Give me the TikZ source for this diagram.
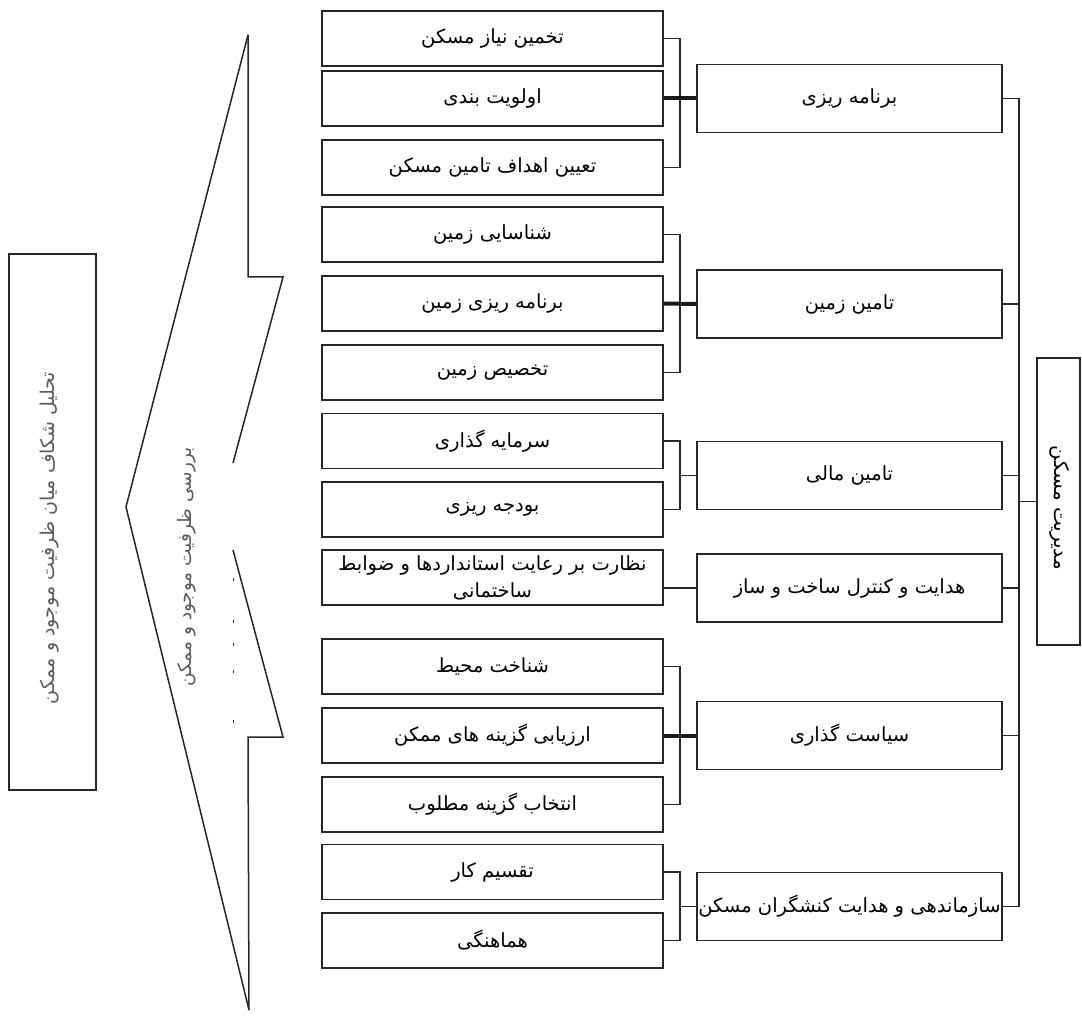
\documentclass[tikz,border=0pt]{standalone}
\usepackage{fontspec}
\TeXXeTstate=1
\newfontfamily\arabicfont[Script=Arabic]{DejaVu Sans}
\newcommand{\fa}[1]{\arabicfont\beginR #1\endR}
\begin{document}
\begin{tikzpicture}[x=1pt,y=-1pt,
  box/.style={draw=black!85, line width=1.5pt, inner sep=0pt, fill=white,
    font=\fontsize{19.5}{27}\selectfont},
  sub/.style={box, minimum width=341pt, minimum height=55pt},
  mid/.style={box, minimum width=305pt, minimum height=68pt},
  conn/.style={draw=black!85, line width=1.5pt},
  thickconn/.style={draw=black!90, line width=4pt},
  blurtext/.style={text=black!65, inner sep=0pt}]
\useasboundingbox (0,0) rectangle (1082,1016);

% sub-items
\node[sub] (b1)  at (492.5,38.5)  {\fa{تخمین نیاز مسکن}};
\node[sub] (b2)  at (492.5,98.5)  {\fa{اولویت بندی}};
\node[sub] (b3)  at (492.5,167.5) {\fa{تعیین اهداف تامین مسکن}};
\node[sub] (b4)  at (492.5,234.5) {\fa{شناسایی زمین}};
\node[sub] (b5)  at (492.5,303.5) {\fa{برنامه ریزی زمین}};
\node[sub] (b6)  at (492.5,372.5) {\fa{تخصیص زمین}};
\node[sub] (b7)  at (492.5,441)   {\fa{سرمایه گذاری}};
\node[sub] (b8)  at (492.5,509.5) {\fa{بودجه ریزی}};
\node[sub, align=center] (b9) at (492.5,577.5)
  {\fa{نظارت بر رعایت استانداردها و ضوابط}\\\fa{ساختمانی}};
\node[sub] (b10) at (492.5,666.5) {\fa{شناخت محیط}};
\node[sub] (b11) at (492.5,735.5) {\fa{ارزیابی گزینه های ممکن}};
\node[sub] (b12) at (492.5,804.5) {\fa{انتخاب گزینه مطلوب}};
\node[sub] (b13) at (492.5,872)   {\fa{تقسیم کار}};
\node[sub] (b14) at (492.5,940.5) {\fa{هماهنگی}};

% middle boxes
\node[mid] (A) at (849.5,98.5)  {\fa{برنامه ریزی}};
\node[mid] (B) at (849.5,304)   {\fa{تامین زمین}};
\node[mid] (C) at (849.5,475.5) {\fa{تامین مالی}};
\node[mid] (D) at (849.5,588)   {\fa{هدایت و کنترل ساخت و ساز}};
\node[mid] (E) at (849.5,735.5) {\fa{سیاست گذاری}};
\node[mid] (F) at (849.5,906.5) {\fa{سازماندهی و هدایت کنشگران مسکن}};

% right box
\node[box, minimum width=43pt, minimum height=287pt] (R) at (1058.5,501.5) {};
\node[rotate=-90, inner sep=0pt, font=\fontsize{20}{24}\selectfont] (Rt) at (1060,508) {\fa{مدیریت مسکن}};

% left box
\node[box, minimum width=87pt, minimum height=536pt] (L) at (52.5,522) {};
\node[rotate=90, blurtext, font=\fontsize{19}{22}\selectfont] (Lt) at (50,538) {\fa{تحلیل شکاف میان ظرفیت موجود و ممکن}};

% bracket columns
\coordinate (xb) at (680,0);
\coordinate (xr) at (1019,0);

\draw[conn] (b1.east) -- (b1.east -| xb) -- (b3.east -| xb) -- (b3.east);
\draw[thickconn] (b2.east) -- (A.west);
\draw[conn] (b4.east) -- (b4.east -| xb) -- (b6.east -| xb) -- (b6.east);
\draw[thickconn] (b5.east) -- (B.west);
\draw[conn] (b7.east) -- (b7.east -| xb) -- (b8.east -| xb) -- (b8.east);
\draw[conn] (C.west -| xb) -- (C.west);
\draw[conn] (D.west -| b9.east) -- (D.west);
\draw[conn] (b10.east) -- (b10.east -| xb) -- (b12.east -| xb) -- (b12.east);
\draw[thickconn] (b11.east) -- (E.west);
\draw[conn] (b13.east) -- (b13.east -| xb) -- (b14.east -| xb) -- (b14.east);
\draw[conn] (F.west -| xb) -- (F.west);

\draw[conn] (A.east) -- (A.east -| xr) -- (F.east -| xr) -- (F.east);
\foreach \n in {B,C,D,E} \draw[conn] (\n.east) -- (\n.east -| xr);
\draw[conn] (R.west -| xr) -- (R.west);

% chevron shape
\coordinate (ct) at (248,35);
\coordinate (ca) at (126,507);
\coordinate (cb) at (249,1010);
\draw[conn] (ct) -- (ca) -- (cb);
\draw[conn] (ct) -- (248,277) -- (283,277) -- (233,463);
\draw[conn] (233,550) -- (283,737) -- (248,737) -- (cb);
\node[rotate=90, blurtext, font=\fontsize{18.5}{22}\selectfont] (Ct) at (187,567) {\fa{بررسی ظرفیت موجود و ممکن}};
\foreach \yy in {578,620,643,670,720}
  \draw[black!80, line width=1pt] (233,\yy) -- (233,\yy+3);
\end{tikzpicture}
\end{document}
